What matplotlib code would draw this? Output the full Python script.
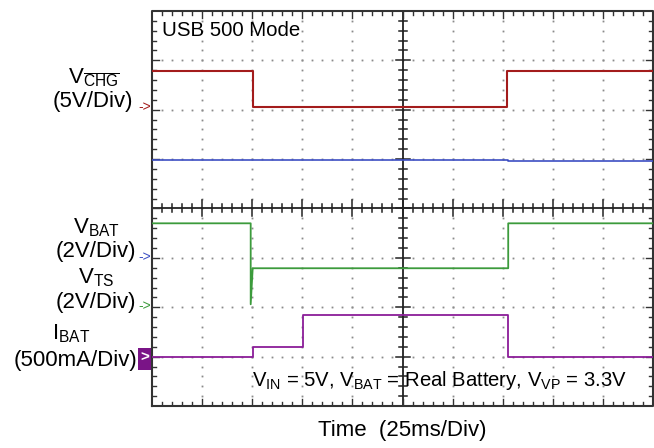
import numpy as np
import matplotlib
matplotlib.use("Agg")
import matplotlib.pyplot as plt
from matplotlib.patches import Rectangle

plt.rcParams['font.family'] = ['Liberation Sans', 'DejaVu Sans']
plt.rcParams['mathtext.fontset'] = 'custom'
plt.rcParams['mathtext.rm'] = 'Liberation Sans'
plt.rcParams['mathtext.it'] = 'Liberation Sans:italic'
plt.rcParams['mathtext.bf'] = 'Liberation Sans:bold'

# ---- data (in screen divisions: x 0..10, y 0..8) ----
vchg_t = [0, 2.02, 7.08, 10]
vchg_v = [6.78, 6.05, 6.78, 6.78]

blue_t = [0, 7.1, 10]
blue_v = [4.98, 4.97, 4.97]

green_t = [0, 1.97, 1.97, 2.01, 7.11, 7.11, 10]
green_v = [3.70, 3.70, 2.06, 2.79, 2.79, 3.70, 3.70]

ibat_t = [0, 2.02, 3.02, 7.11, 10]
ibat_v = [0.99, 1.20, 1.84, 0.99, 0.99]

RED = '#a31c1c'
BLUE = '#3d4fc4'
GREEN = '#3c9b3c'
PURPLE = '#8b1d98'

W, H = 654, 448
fig = plt.figure(figsize=(W / 100, H / 100), dpi=100)
ax = fig.add_axes([152 / W, 42 / H, 501 / W, 395 / H])
ax.set_xlim(0, 10)
ax.set_ylim(0, 8)
ax.axis('off')

px_x = 10 / 501.0   # one pixel in x divisions
px_y = 8 / 395.0    # one pixel in y divisions

# dotted grid
grid_col = '#8a8a8a'
for k in [1, 2, 3, 4, 6, 7, 8, 9]:
    ys = np.arange(0.2, 8, 0.2)
    ax.plot(np.full_like(ys, k), ys, ls='none', marker='s', ms=1.3, mew=0, color=grid_col)
for j in [1, 2, 3, 5, 6, 7]:
    xs = np.arange(0.2, 10, 0.2)
    ax.plot(xs, np.full_like(xs, j), ls='none', marker='s', ms=1.3, mew=0, color=grid_col)

# center axes with crossing ticks
axc = '#222222'
ax.plot([5, 5], [0, 8], color=axc, lw=1.3)
ax.plot([0, 10], [4, 4], color=axc, lw=1.3)
for y in np.arange(0.2, 8, 0.2):
    major = abs(y - round(y)) < 1e-6
    L = (7 if major else 4) * px_x
    ax.plot([5 - L, 5 + L], [y, y], color=axc, lw=1.1)
for x in np.arange(0.2, 10, 0.2):
    major = abs(x - round(x)) < 1e-6
    L = (8 if major else 4) * px_y
    ax.plot([x, x], [4 - L, 4 + L], color=axc, lw=1.1)

# frame with inward ticks
fc = '#333333'
ax.plot([0, 10, 10, 0, 0], [0, 0, 8, 8, 0], color=fc, lw=1.5, clip_on=False)
for x in np.arange(0.2, 10, 0.2):
    major = abs(x - round(x)) < 1e-6
    L = (7 if major else 4) * px_y
    ax.plot([x, x], [0, L], color=fc, lw=1.0)
    ax.plot([x, x], [8, 8 - L], color=fc, lw=1.0)
for y in np.arange(0.2, 8, 0.2):
    major = abs(y - round(y)) < 1e-6
    L = (7 if major else 4) * px_x
    ax.plot([0, L], [y, y], color=fc, lw=1.0)
    ax.plot([10, 10 - L], [y, y], color=fc, lw=1.0)

# traces
ax.step(vchg_t, vchg_v, where='post', color=RED, lw=1.5)
ax.step(blue_t, blue_v, where='post', color=BLUE, lw=1.2)
ax.plot(green_t, green_v, color=GREEN, lw=1.3)
ax.step(ibat_t, ibat_v, where='post', color=PURPLE, lw=1.3)

# texts
def fx(x):
    return x / W

def fy(y):
    return 1 - y / H

ax.text(0.2, 7.6, 'USB 500 Mode', fontsize=14.7, va='center', ha='left')

lab = 16
fig.text(fx(94), fy(78), r'$\mathrm{V}_{\overline{\mathrm{CHG}}}$', fontsize=lab, ha='center', va='center')
fig.text(fx(133), fy(102), '(5V/Div)', fontsize=lab, ha='right', va='center')
fig.text(fx(96), fy(228), r'$\mathrm{V}_{\mathrm{BAT}}$', fontsize=lab, ha='center', va='center')
fig.text(fx(136), fy(252), '(2V/Div)', fontsize=lab, ha='right', va='center')
fig.text(fx(96), fy(278), r'$\mathrm{V}_{\mathrm{TS}}$', fontsize=lab, ha='center', va='center')
fig.text(fx(136), fy(302), '(2V/Div)', fontsize=lab, ha='right', va='center')
fig.text(fx(71), fy(334), r'$\mathrm{I}_{\mathrm{BAT}}$', fontsize=lab, ha='center', va='center')
fig.text(fx(137), fy(360), '(500mA/Div)', fontsize=lab, ha='right', va='center')

# channel markers
fig.text(fx(138), fy(107), '->', fontsize=10, color=RED, ha='left', va='center')
fig.text(fx(138.5), fy(257), '->', fontsize=10, color=BLUE, ha='left', va='center')
fig.text(fx(138.5), fy(306), '->', fontsize=10, color=GREEN, ha='left', va='center')
ax.add_patch(Rectangle((-14 * px_x, 0.72), 14 * px_x, 0.46, facecolor='#7a1487',
                       edgecolor='none', clip_on=False))
ax.text(-7 * px_x, 0.98, '>', color='white', fontsize=11, fontweight='bold',
        ha='center', va='center', clip_on=False)

ax.text(9.48, 0.52,
        r'$\mathrm{V}_{\mathrm{IN}}$ = 5V, $\mathrm{V}_{\mathrm{BAT}}$ = Real Battery, $\mathrm{V}_{\mathrm{VP}}$ = 3.3V',
        fontsize=14.6, ha='right', va='center')

fig.text(fx(402), fy(430), 'Time  (25ms/Div)', fontsize=16, ha='center', va='center')

fig.savefig('out.png', dpi=100)
